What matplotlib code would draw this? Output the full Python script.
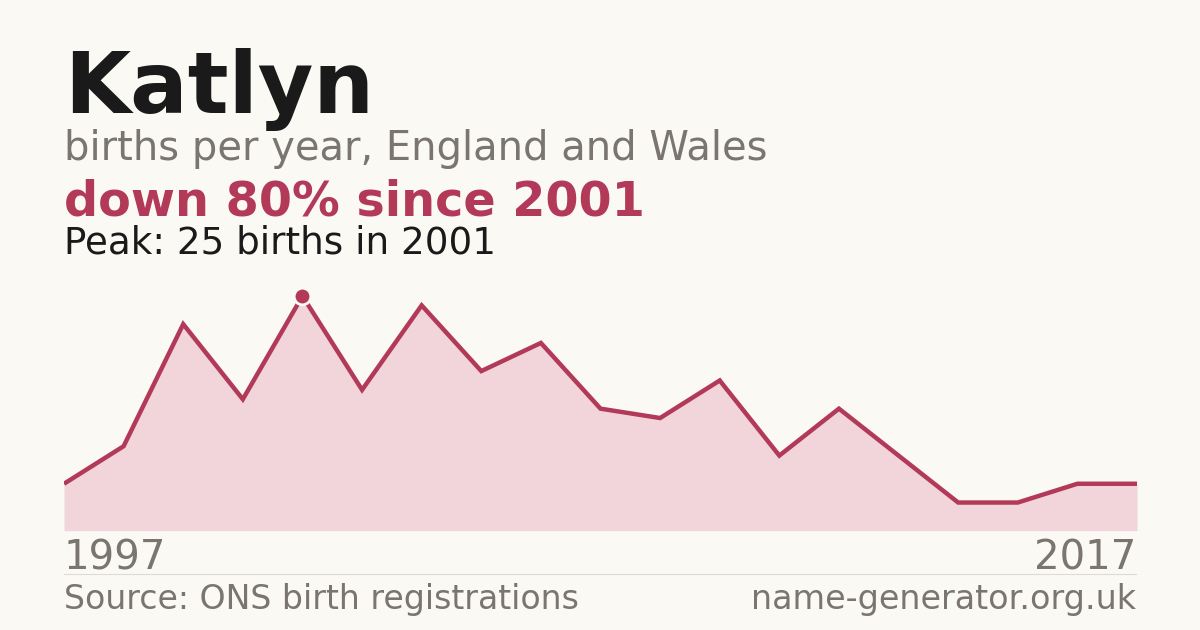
import matplotlib
matplotlib.use("Agg")
import matplotlib.pyplot as plt

# births per year (years with suppressed counts are left out)
years = [1997, 1998, 1999, 2000, 2001, 2002, 2003, 2004, 2005, 2006,
         2007, 2008, 2009, 2010, 2011, 2014, 2015, 2016, 2017]
births = [5, 9, 22, 14, 25, 15, 24, 17, 20, 13,
          12, 16, 8, 13, 8, 3, 3, 5, 5]

name = "Katlyn"
subtitle = "births per year, England and Wales"
headline = "down 80% since 2001"
peak_text = "Peak: 25 births in 2001"
source = "Source: ONS birth registrations"
site = "name-generator.org.uk"

BG = "#faf9f4"
RED = "#b23a58"
FILL = "#f1d5db"
GREY = "#7a756e"
DARK = "#1a1a1a"

W, H = 1200, 630
fig = plt.figure(figsize=(12, 6.3), dpi=100, facecolor=BG)


def fx(x):
    return x / W


def fy(y):
    return 1 - y / H


# chart area
ax = fig.add_axes([fx(64), fy(530.7), (1137 - 64) / W, (530.7 - 296) / H])
ax.set_facecolor(BG)
xs = list(range(len(births)))
ax.fill_between(xs, births, 0, color=FILL, lw=0)
ax.plot(xs, births, color=RED, lw=3.2, solid_joinstyle="miter", solid_capstyle="butt")
peak_i = births.index(max(births))
ax.plot([xs[peak_i]], [births[peak_i]], "o", ms=12, color=RED, mec=BG, mew=2, clip_on=False, zorder=5)
ax.set_xlim(0, len(births) - 1)
ax.set_ylim(0, max(births))
ax.axis("off")

# titles
fig.text(fx(64), fy(113.3), name, fontsize=61.5, fontweight="bold", color=DARK, va="baseline")
fig.text(fx(64), fy(160), subtitle, fontsize=28.8, color=GREY, va="baseline")
fig.text(fx(64), fy(215), headline, fontsize=34.4, fontweight="bold", color=RED, va="baseline")
fig.text(fx(64), fy(253.3), peak_text, fontsize=26.8, color=DARK, va="baseline")

# year labels
fig.text(fx(64), fy(570), str(years[0]), fontsize=29, color=GREY, va="baseline")
fig.text(fx(1136), fy(570), str(years[-1]), fontsize=29, color=GREY, va="baseline", ha="right")

# separator and footer
fig.add_artist(plt.Line2D([fx(64), fx(1136)], [fy(574), fy(574)], color="#dddbd5", lw=0.8))
fig.text(fx(64), fy(609.3), source, fontsize=23.9, color=GREY, va="baseline")
fig.text(fx(1136), fy(609.3), site, fontsize=24, color=GREY, va="baseline", ha="right")

fig.savefig("out.png", dpi=100, facecolor=BG)
